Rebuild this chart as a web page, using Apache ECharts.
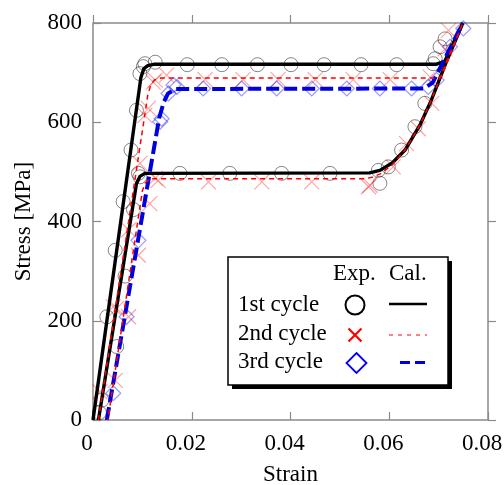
<!DOCTYPE html>
<html lang="en">
<head>
<meta charset="UTF-8">
<title>Stress-Strain</title>
<style>
  html, body { margin: 0; padding: 0; background: #fff; }
  #chart { width: 504px; height: 485px; }
</style>
</head>
<body>
<div id="chart"></div>
<script src="https://cdn.jsdelivr.net/npm/echarts@6/dist/echarts.min.js"></script>
<script>
// tick labels
var xTicks = [0, 0.02, 0.04, 0.06, 0.08];
var yTicks = [0, 200, 400, 600, 800];

// calculated curves, [strain, stress MPa], in path order
var cal1st = [[0.0000, 0], [0.0097, 690], [0.0103, 708], [0.0111, 714], [0.0125, 717], [0.0695, 717], [0.0712, 722],
  [0.0749, 800], [0.0717, 725], [0.0685, 644], [0.0662, 594], [0.0632, 544], [0.0606, 518], [0.0581, 503], [0.0560, 498],
  [0.0105, 497], [0.0095, 491], [0.0088, 476], [0.0011, 0]];
var cal2nd = [[0.0011, 0], [0.0111, 655], [0.0117, 675], [0.0124, 685], [0.0138, 689], [0.0690, 689], [0.0706, 692],
  [0.0749, 800], [0.0717, 725], [0.0685, 644], [0.0662, 594], [0.0632, 544], [0.0606, 514], [0.0582, 496], [0.0565, 489],
  [0.0550, 486], [0.0115, 486], [0.0106, 478], [0.0100, 462], [0.0030, 0]];
var cal3rd = [[0.0028, 0], [0.0134, 608], [0.0143, 640], [0.0152, 658], [0.0168, 667], [0.0670, 668], [0.0688, 680], [0.0749, 800]];

// experimental points
var exp1st = [[0.0013, 15], [0.0018, 40], [0.0028, 208], [0.0045, 342], [0.0061, 440], [0.0077, 544], [0.0088, 624],
  [0.0095, 698], [0.0102, 712], [0.0105, 718], [0.0126, 721], [0.0191, 716], [0.0261, 716], [0.0333, 716], [0.0401, 716],
  [0.0468, 716], [0.0543, 716], [0.0615, 716], [0.0689, 718], [0.0693, 728], [0.0703, 752], [0.0713, 768],
  [0.0672, 638], [0.0652, 591], [0.0625, 544], [0.0598, 510], [0.0578, 503], [0.0581, 477], [0.0480, 497], [0.0382, 497],
  [0.0277, 497], [0.0176, 497], [0.0092, 497], [0.0095, 490], [0.0082, 424], [0.0065, 290], [0.0048, 148]];
var exp2nd = [[0.0014, 57], [0.0045, 80], [0.0041, 228], [0.0048, 225], [0.0072, 208], [0.0072, 383], [0.0092, 332],
  [0.0095, 517], [0.0105, 614], [0.0112, 628], [0.0115, 436], [0.0122, 681], [0.0126, 685], [0.0149, 695], [0.0227, 686],
  [0.0304, 686], [0.0375, 686], [0.0450, 686], [0.0527, 686], [0.0602, 686], [0.0683, 691], [0.0713, 748], [0.0720, 785],
  [0.0686, 638], [0.0659, 587], [0.0635, 557], [0.0608, 510], [0.0558, 470], [0.0561, 473], [0.0443, 480], [0.0342, 480],
  [0.0234, 480], [0.0132, 483], [0.0126, 487]];
var exp3rd = [[0.0041, 54], [0.0068, 208], [0.0092, 362], [0.0136, 601], [0.0139, 607], [0.0153, 658], [0.0163, 675],
  [0.0170, 671], [0.0223, 668], [0.0301, 668], [0.0372, 668], [0.0443, 668], [0.0514, 668], [0.0581, 668], [0.0645, 668],
  [0.0679, 671], [0.0696, 685], [0.0723, 752], [0.0750, 789]];

var serif = 'Liberation Serif';
var axisGray = '#8a8a8a';
var crossPath = 'path://M0,0 L10,10 M10,0 L0,10';

var chart = echarts.init(document.getElementById('chart'));

function tickAxis(inside) {
  return {
    min: 0,
    axisLine: { show: false, onZero: false },
    axisTick: { show: true, inside: inside, length: 8, lineStyle: { color: axisGray, width: 1.2 } },
    splitLine: { show: false }
  };
}

var option = {
  animation: false,
  grid: {
    left: 93, top: 23, right: 16, bottom: 65,
    outerBoundsMode: 'none', containLabel: false,
    show: true, borderColor: axisGray, borderWidth: 1.5, backgroundColor: 'transparent'
  },
  xAxis: [
    Object.assign(tickAxis(true), {
      type: 'value', position: 'bottom', max: 0.08, interval: 0.02,
      name: 'Strain', nameLocation: 'middle', nameGap: 43,
      nameTextStyle: { fontFamily: serif, fontSize: 23, color: '#000' },
      axisLabel: { fontFamily: serif, fontSize: 23, color: '#000', margin: 12, padding: [0, 12, 0, 0],
        formatter: function (v) { return xTicks.indexOf(+v.toFixed(2)) >= 0 ? String(+v.toFixed(2)) : ''; } }
    }),
    Object.assign(tickAxis(false), {
      type: 'value', position: 'top', max: 0.08, interval: 0.02, axisLabel: { show: false }
    })
  ],
  yAxis: [
    Object.assign(tickAxis(true), {
      type: 'value', position: 'left', max: 800, interval: 200,
      name: 'Stress [MPa]', nameLocation: 'middle', nameGap: 58,
      nameTextStyle: { fontFamily: serif, fontSize: 23, color: '#000' },
      axisLabel: { fontFamily: serif, fontSize: 23, color: '#000', margin: 11,
        formatter: function (v) { return yTicks.indexOf(v) >= 0 ? String(v) : ''; } }
    }),
    Object.assign(tickAxis(false), {
      type: 'value', position: 'right', max: 800, interval: 200, axisLabel: { show: false }
    })
  ],
  series: [
    {
      name: '1st exp', type: 'scatter', data: exp1st, symbol: 'circle', symbolSize: 14, z: 1,
      itemStyle: { color: 'rgba(0,0,0,0)', borderColor: 'rgba(0,0,0,0.6)', borderWidth: 1 }
    },
    {
      name: '2nd exp', type: 'scatter', data: exp2nd, symbol: crossPath, symbolSize: 15, z: 1,
      itemStyle: { color: 'none', borderColor: 'rgba(255,0,0,0.45)', borderWidth: 1.2 }
    },
    {
      name: '3rd exp', type: 'scatter', data: exp3rd, symbol: 'diamond', symbolSize: 15, z: 1,
      itemStyle: { color: 'rgba(0,0,0,0)', borderColor: 'rgba(0,0,255,0.5)', borderWidth: 1.2 }
    },
    {
      name: '1st cal', type: 'line', data: cal1st, showSymbol: false, z: 2,
      lineStyle: { color: '#000', width: 3.4 }
    },
    {
      name: '3rd cal', type: 'line', data: cal3rd, showSymbol: false, z: 3,
      lineStyle: { color: '#0000dd', width: 4, type: [13, 5] }
    },
    {
      name: '2nd cal', type: 'line', data: cal2nd, showSymbol: false, z: 4,
      lineStyle: { color: '#ff0000', width: 1.5, type: [5, 4] }
    }
  ],
  graphic: [
    { type: 'rect', shape: { x: 232, y: 261, width: 220, height: 128 }, style: { fill: '#000' }, z: 10 },
    { type: 'rect', shape: { x: 228, y: 257, width: 220, height: 128 }, style: { fill: '#fff', stroke: '#000', lineWidth: 1.5 }, z: 11 },
    { type: 'text', x: 333, y: 274, style: { text: 'Exp.', font: '23px "Liberation Serif"', fill: '#000', verticalAlign: 'middle' }, z: 12 },
    { type: 'text', x: 389, y: 274, style: { text: 'Cal.', font: '23px "Liberation Serif"', fill: '#000', verticalAlign: 'middle' }, z: 12 },
    { type: 'text', x: 238, y: 305, style: { text: '1st cycle', font: '23px "Liberation Serif"', fill: '#000', verticalAlign: 'middle' }, z: 12 },
    { type: 'text', x: 238, y: 334, style: { text: '2nd cycle', font: '23px "Liberation Serif"', fill: '#000', verticalAlign: 'middle' }, z: 12 },
    { type: 'text', x: 238, y: 362, style: { text: '3rd cycle', font: '23px "Liberation Serif"', fill: '#000', verticalAlign: 'middle' }, z: 12 },
    { type: 'circle', shape: { cx: 355, cy: 305, r: 9.5 }, style: { fill: 'none', stroke: '#000', lineWidth: 2 }, z: 12 },
    { type: 'polyline', shape: { points: [[348.5, 328.5], [361.5, 341.5]] }, style: { stroke: '#ff0000', lineWidth: 2.2 }, z: 12 },
    { type: 'polyline', shape: { points: [[361.5, 328.5], [348.5, 341.5]] }, style: { stroke: '#ff0000', lineWidth: 2.2 }, z: 12 },
    { type: 'polygon', shape: { points: [[356.5, 353], [366.5, 363], [356.5, 373], [346.5, 363]] }, style: { fill: 'none', stroke: '#0000ff', lineWidth: 1.8 }, z: 12 },
    { type: 'line', shape: { x1: 389, y1: 304, x2: 427, y2: 304 }, style: { stroke: '#000', lineWidth: 2.5 }, z: 12 },
    { type: 'line', shape: { x1: 389, y1: 335, x2: 427, y2: 335 }, style: { stroke: '#ff0000', lineWidth: 1.2, lineDash: [4, 5] }, z: 12 },
    { type: 'line', shape: { x1: 400, y1: 362.5, x2: 427, y2: 362.5 }, style: { stroke: '#0000dd', lineWidth: 3, lineDash: [10, 5] }, z: 12 }
  ]
};
chart.setOption(option);
</script>
</body>
</html>
